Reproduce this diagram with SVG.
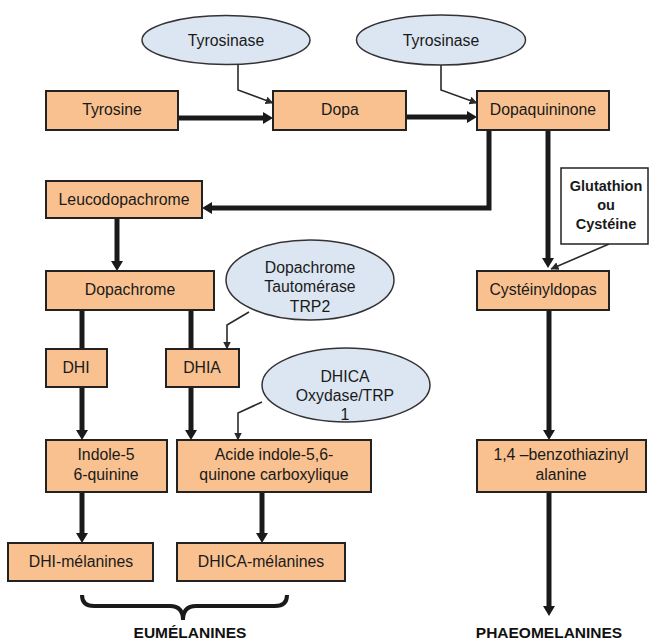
<svg xmlns="http://www.w3.org/2000/svg" width="649" height="642" viewBox="0 0 649 642">
<defs>
<style>
.box{fill:#F9C18F;stroke:#222;stroke-width:2}
.enz{fill:#DCE6F2;stroke:#333;stroke-width:1.5}
.note{fill:#fff;stroke:#222;stroke-width:1.5}
text{font-family:"Liberation Sans",Arial,sans-serif;font-size:15.8px;fill:#1a1a1a;text-anchor:middle}
.b{font-weight:bold;font-size:14.5px}
.big{font-weight:bold;font-size:15.5px;fill:#111}
.thick{fill:none;stroke:#1a1a1a;stroke-width:5}
.thin{fill:none;stroke:#2a2a2a;stroke-width:1.6}
</style>
<marker id="ah" markerUnits="userSpaceOnUse" viewBox="0 0 10 12" markerWidth="10" markerHeight="12" refX="0" refY="6" orient="auto"><path d="M0,0 L10,6 L0,12 z" fill="#1a1a1a"/></marker>
<marker id="at" markerUnits="userSpaceOnUse" viewBox="0 0 8 8" markerWidth="8" markerHeight="8" refX="7.5" refY="4" orient="auto"><path d="M0,0 L8,4 L0,8 z" fill="#2a2a2a"/></marker>
</defs>
<g id="connectors">
<path class="thick" d="M178,118 L263,118" marker-end="url(#ah)"/>
<path class="thick" d="M406,117 L467,117" marker-end="url(#ah)"/>
<path class="thin" d="M238,65 L238,90 L273,103" marker-end="url(#at)"/>
<path class="thin" d="M441,65 L441,90 L477,103" marker-end="url(#at)"/>
<path class="thick" d="M489,130 L489,208 L212,208" marker-end="url(#ah)"/>
<path class="thick" d="M548,130 L548,258" marker-end="url(#ah)"/>
<path class="thin" d="M609,244 L551,269" marker-end="url(#at)"/>
<path class="thick" d="M117,218 L117,261" marker-end="url(#ah)"/>
<path class="thick" d="M82,310 L82,349"/>
<path class="thick" d="M191,310 L191,349"/>
<path class="thin" d="M249,312 L227,325 L227,349" marker-end="url(#at)"/>
<path class="thick" d="M82,387 L82,430" marker-end="url(#ah)"/>
<path class="thick" d="M191,387 L191,430" marker-end="url(#ah)"/>
<path class="thin" d="M262,402 L238,413 L238,440" marker-end="url(#at)"/>
<path class="thick" d="M82,492 L82,533" marker-end="url(#ah)"/>
<path class="thick" d="M262,492 L262,533" marker-end="url(#ah)"/>
<path class="thick" d="M549,310 L549,430" marker-end="url(#ah)"/>
<path class="thick" d="M549,492 L549,606" marker-end="url(#ah)"/>
<path fill="none" stroke="#1a1a1a" stroke-width="4" d="M82,595 Q82,606 94,606 L170,606 Q183,606 183,620 Q183,606 196,606 L275,606 Q287,606 287,595"/>
</g>
<g id="tyrosinase1"><ellipse class="enz" cx="226" cy="40" rx="84" ry="24.5"/><text x="226" y="46">Tyrosinase</text></g>
<g id="tyrosinase2"><ellipse class="enz" cx="441" cy="40" rx="84.5" ry="25"/><text x="441" y="46">Tyrosinase</text></g>
<g id="tyrosine"><rect class="box" x="46" y="91" width="132" height="39"/><text x="112" y="115">Tyrosine</text></g>
<g id="dopa"><rect class="box" x="273" y="91" width="133" height="39"/><text x="340" y="115">Dopa</text></g>
<g id="dopaquininone"><rect class="box" x="477" y="91" width="132" height="39"/><text x="543" y="115">Dopaquininone</text></g>
<g id="leucodopachrome"><rect class="box" x="46" y="181" width="156" height="37"/><text x="124" y="205">Leucodopachrome</text></g>
<g id="glutathion"><rect class="note" x="561" y="168" width="87" height="76"/><text class="b" x="606" y="191">Glutathion</text><text class="b" x="606" y="210">ou</text><text class="b" x="606" y="229">Cystéine</text></g>
<g id="dopachrome"><rect class="box" x="46" y="271" width="168" height="39"/><text x="130" y="295">Dopachrome</text></g>
<g id="cysteinyldopas"><rect class="box" x="477" y="271" width="132" height="39"/><text x="543" y="295">Cystéinyldopas</text></g>
<g id="tautomerase"><ellipse class="enz" cx="310" cy="280" rx="84" ry="40"/><text x="310" y="273">Dopachrome</text><text x="310" y="292">Tautomérase</text><text x="310" y="312">TRP2</text></g>
<g id="dhi"><rect class="box" x="46" y="349" width="61" height="38"/><text x="76" y="373">DHI</text></g>
<g id="dhia"><rect class="box" x="166" y="349" width="73" height="38"/><text x="202" y="373">DHIA</text></g>
<g id="dhica-oxydase"><ellipse class="enz" cx="346" cy="385" rx="84" ry="37"/><text x="345" y="382">DHICA</text><text x="345" y="401">Oxydase/TRP</text><text x="345" y="420">1</text></g>
<g id="indole"><rect class="box" x="46" y="440" width="121" height="52"/><text x="106" y="460">Indole-5</text><text x="106" y="480">6-quinine</text></g>
<g id="acide"><rect class="box" x="177" y="440" width="194" height="52"/><text x="274" y="460">Acide indole-5,6-</text><text x="274" y="480">quinone carboxylique</text></g>
<g id="benzothiazinyl"><rect class="box" x="477" y="440" width="169" height="52"/><text x="561" y="460">1,4 –benzothiazinyl</text><text x="561" y="480">alanine</text></g>
<g id="dhi-melanines"><rect class="box" x="8" y="543" width="145" height="38"/><text x="81" y="567">DHI-mélanines</text></g>
<g id="dhica-melanines"><rect class="box" x="177" y="543" width="168" height="38"/><text x="261" y="567">DHICA-mélanines</text></g>
<g id="eumelanines"><text class="big" x="190" y="638">EUMÉLANINES</text></g>
<g id="phaeomelanines"><text class="big" x="549" y="638">PHAEOMELANINES</text></g>
</svg>
